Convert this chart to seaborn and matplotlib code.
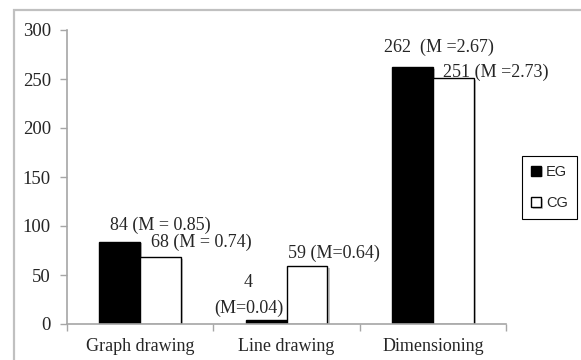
import pandas as pd
import numpy as np
import matplotlib.pyplot as plt
import matplotlib.patheffects as pe
from matplotlib.patches import Rectangle
import seaborn as sns


categories = ["Graph drawing", "Line drawing", "Dimensioning"]
groups = ["EG", "CG"]
eg_values = [84, 4, 262]
cg_values = [68, 59, 251]
eg_labels = ["84 (M = 0.85)", "4\n(M=0.04)", "262  (M =2.67)"]
cg_labels = ["68 (M = 0.74)", "59 (M=0.64)", "251 (M =2.73)"]
y_ticks = [0, 50, 100, 150, 200, 250, 300]

data = pd.DataFrame({
    "Task": categories * 2,
    "Group": ["EG"] * 3 + ["CG"] * 3,
    "Count": eg_values + cg_values,
})

sns.set_style("white")
plt.rcParams["font.family"] = ["Liberation Serif", "DejaVu Serif"]

fig = plt.figure(figsize=(5.81, 3.6), dpi=100)
ax = fig.add_axes([67 / 581, 36 / 360, 439 / 581, 294 / 360])

# outer frame of the picture
fig.patches.append(Rectangle((14 / 581, -0.1), 1.0, 1.1 - 10 / 360,
                             transform=fig.transFigure, fill=False,
                             edgecolor="#c0c0c0", linewidth=1.6))

sns.barplot(
    data=data, x="Task", y="Count", hue="Group",
    hue_order=groups, order=categories,
    palette={"EG": "black", "CG": "white"},
    edgecolor="black", linewidth=1.0, width=0.56,
    ax=ax,
)

for bar in ax.patches:
    bar.set_path_effects([
        pe.SimplePatchShadow(offset=(1.5, -1.2), shadow_rgbFace="gray", alpha=0.45),
        pe.Normal(),
    ])

# label placement (x offset in category units, y offset in data units)
eg_dx = [0.28, -0.12, 0.185]
eg_dy = [17, 25, 20]
cg_dx = [0.28, 0.185, 0.29]
cg_dy = [15, 13, 6]

for i, cat in enumerate(categories):
    x_eg = i - 0.14
    x_cg = i + 0.14
    ax.text(x_eg + eg_dx[i], eg_values[i] + eg_dy[i], eg_labels[i],
            ha="center", va="center", fontsize=13, linespacing=1.6)
    ax.text(x_cg + cg_dx[i], cg_values[i] + cg_dy[i], cg_labels[i],
            ha="center", va="center", fontsize=13)

ax.set_xlim(-0.5, 2.5)
ax.set_ylim(0, 300)
ax.set_yticks(y_ticks)
ax.set_xticks(range(3))
ax.set_xticklabels(categories)
ax.set_xticks([-0.5, 0.5, 1.5, 2.5], minor=True)
ax.set_xlabel("")
ax.set_ylabel("")

sns.despine(ax=ax, top=True, right=True)
for side in ["left", "bottom"]:
    ax.spines[side].set_color("#a6a6a6")
    ax.spines[side].set_linewidth(1.2)

ax.tick_params(axis="y", which="major", direction="out", length=5, width=1,
               color="#a6a6a6", labelsize=13.5, pad=6.5, left=True)
ax.tick_params(axis="x", which="major", length=0, labelsize=13, pad=10)
ax.tick_params(axis="x", which="minor", direction="out", length=5, width=1,
               color="#a6a6a6", bottom=True)

handles, labels = ax.get_legend_handles_labels()
ax.legend(handles, labels, loc="center", bbox_to_anchor=(549.5 / 581, 172.5 / 360),
          bbox_transform=fig.transFigure, frameon=True, fancybox=False,
          edgecolor="black", framealpha=1, handlelength=0.7, handleheight=0.7,
          handletextpad=0.35, labelspacing=1.2, borderpad=0.6,
          prop={"family": "Liberation Sans", "size": 10.5})
ax.get_legend().get_frame().set_linewidth(0.8)

plt.savefig("out.png", dpi=100)
